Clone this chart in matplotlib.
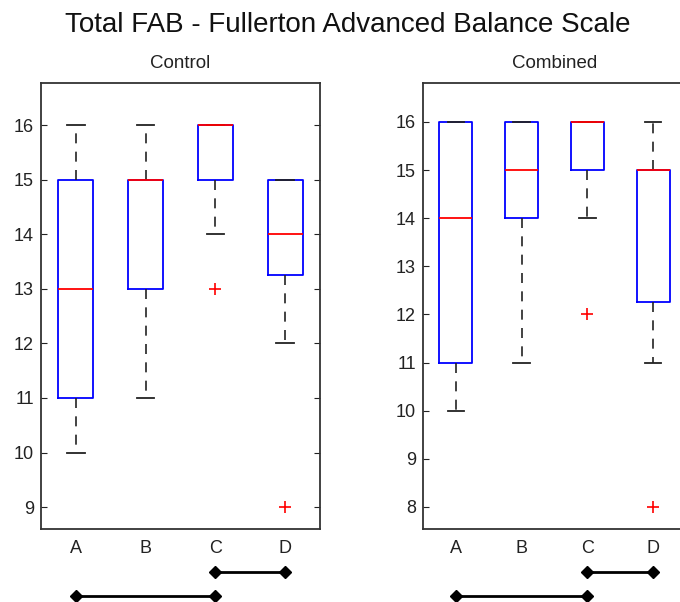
import matplotlib
matplotlib.use("Agg")
import matplotlib.pyplot as plt
import matplotlib.transforms as mtransforms

plt.rcParams['font.family'] = ['Liberation Sans', 'DejaVu Sans']

labels = ['A', 'B', 'C', 'D']

# Control group
control_lo = [10, 11, 14, 12]
control_q1 = [11, 13, 15, 13.25]
control_med = [13, 15, 16, 14]
control_q3 = [15, 15, 16, 15]
control_hi = [16, 16, 16, 15]
control_fliers = [[], [], [13], [9]]

# Combined group
combined_lo = [10, 11, 14, 11]
combined_q1 = [11, 14, 15, 12.25]
combined_med = [14, 15, 16, 15]
combined_q3 = [16, 16, 16, 15]
combined_hi = [16, 16, 16, 16]
combined_fliers = [[], [], [12], [8]]

# significance bars (group index from, to)
control_sig = [(3, 4), (1, 3)]
combined_sig = [(3, 4), (1, 3)]
sig_y = [-0.096, -0.150]


def make_stats(lo, q1, med, q3, hi, fliers):
    return [dict(label=l, whislo=a, q1=b, med=c, q3=d, whishi=e, fliers=f)
            for l, a, b, c, d, e, f in zip(labels, lo, q1, med, q3, hi, fliers)]


def draw(ax, stats, ylim, yticks, sig, title):
    ax.bxp(stats, positions=[1, 2, 3, 4], widths=0.5, capwidths=0.25,
           boxprops=dict(color='#0000ff', linewidth=1.3),
           medianprops=dict(color='#ff0000', linewidth=1.3),
           whiskerprops=dict(color='#222222', linewidth=1.2, linestyle=(0, (6, 5))),
           capprops=dict(color='#222222', linewidth=1.3),
           flierprops=dict(marker='+', markeredgecolor='#ff0000', markersize=9,
                           markeredgewidth=1.2, linestyle='none'))
    ax.set_xlim(0.5, 4.5)
    ax.set_ylim(*ylim)
    ax.set_yticks(yticks)
    ax.set_xticks([1, 2, 3, 4])
    ax.set_xticklabels(labels)
    ax.tick_params(axis='y', direction='in', length=4, right=True, labelsize=13,
                   pad=5, colors='#222222')
    ax.tick_params(axis='x', length=0, labelsize=13, pad=8, colors='#222222')
    for s in ax.spines.values():
        s.set_linewidth(1.3)
        s.set_color('#333333')
    ax.set_title(title, fontsize=13.5, pad=11, color='#222222')
    trans = mtransforms.blended_transform_factory(ax.transData, ax.transAxes)
    for (a, b), y in zip(sig, sig_y):
        ax.plot([a, b], [y, y], color='black', linewidth=2, marker='D',
                markersize=6, transform=trans, clip_on=False)


fig = plt.figure(figsize=(6.8, 6.02), dpi=100)
ax1 = fig.add_axes([41 / 680, 73 / 602, 279 / 680, 446 / 602])
ax2 = fig.add_axes([423 / 680, 73 / 602, 263 / 680, 446 / 602])

draw(ax1, make_stats(control_lo, control_q1, control_med, control_q3, control_hi, control_fliers),
     (8.6, 16.77), range(9, 17), control_sig, 'Control')
draw(ax2, make_stats(combined_lo, combined_q1, combined_med, combined_q3, combined_hi, combined_fliers),
     (7.54, 16.81), range(8, 17), combined_sig, 'Combined')

fig.text(348 / 680, 1 - 25 / 602, 'Total FAB - Fullerton Advanced Balance Scale',
         ha='center', va='center', fontsize=20, color='#111111')

fig.savefig('out.png', dpi=100)
